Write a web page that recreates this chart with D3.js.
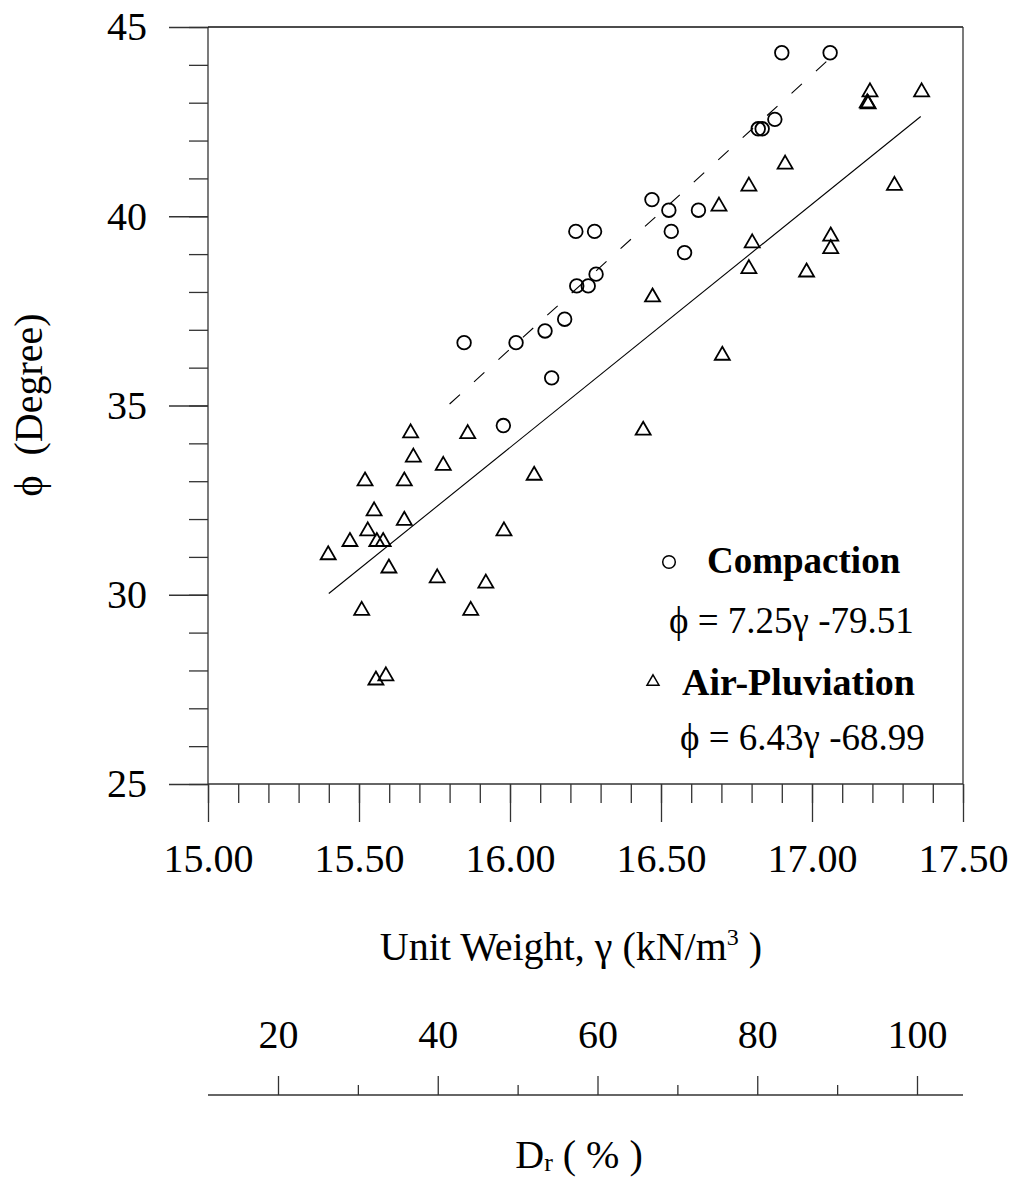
<!DOCTYPE html>
<html><head><meta charset="utf-8">
<script src="https://cdn.jsdelivr.net/npm/d3@7"></script>
<style>
body{margin:0;background:#fff}
text{font-family:"Liberation Serif","Times New Roman",Times,serif;fill:#000}
</style>
</head><body>
<svg id="chart" width="1019" height="1178"></svg>
<script>
// ---- data ----
const compactionGamma = [16.900,17.060,16.877,16.822,16.835,16.470,16.526,16.624,16.218,16.280,16.534,16.578,16.285,16.221,16.259,16.181,16.116,16.020,15.848,16.138,15.978];
const compactionPhi   = [44.32,44.32,42.56,42.31,42.31,40.44,40.16,40.16,39.60,39.60,39.60,39.04,38.47,38.16,38.16,37.28,36.97,36.66,36.66,35.73,34.47];

const pluviationGamma = [17.192,17.183,17.186,17.363,16.911,16.791,17.273,16.692,17.062,17.062,16.802,16.791,16.982,16.472,16.703,16.441,16.080,15.671,15.860,15.680,15.779,15.520,15.650,15.550,15.650,15.529,15.980,15.470,15.559,15.580,15.398,15.599,15.759,15.920,15.509,15.870,15.556,15.589];
const pluviationPhi   = [43.34,43.05,43.02,43.34,41.43,40.85,40.87,40.32,39.53,39.20,39.35,38.67,38.58,37.92,36.38,34.40,33.21,34.33,34.31,33.69,33.47,33.06,33.06,32.27,32.02,31.74,31.74,31.46,31.46,31.46,31.11,30.76,30.50,30.36,29.64,29.64,27.80,27.91];

const seriesNames   = ["Compaction", "Air-Pluviation"];
const fitSlope      = [7.25, 6.43];
const fitIntercept  = [-79.51, -68.99];
const fitGammaStart = [15.80, 15.40];
const fitGammaEnd   = [17.06, 17.36];

const xMajorTicks = [15.0, 15.5, 16.0, 16.5, 17.0, 17.5];
const yMajorTicks = [25, 30, 35, 40, 45];
const drMajorTicks = [20, 40, 60, 80, 100];
const drMinorTicks = [30, 50, 70, 90];

// ---- drawing ----
const svg = d3.select("#chart");
const x = d3.scaleLinear([15, 17.5], [208, 963]);
const y = d3.scaleLinear([25, 45], [784, 27]);
const dr = d3.scaleLinear([20, 100], [278, 917]);
const axisColor = "#333";
const FONT = '"Liberation Serif","Times New Roman",Times,serif';

function styleAxis(g) {
  g.attr("font-family", FONT).attr("font-size", 40);
  g.selectAll("line").attr("stroke", axisColor).attr("stroke-width", 1.3);
  g.selectAll("path.domain").remove();
  g.selectAll("text").attr("fill", "#000");
}

// left axis
svg.append("g").attr("transform", `translate(${x(15)},0)`)
  .call(d3.axisLeft(y).tickValues(d3.range(25, 46, 1)).tickSize(19).tickFormat("").tickSizeOuter(0))
  .call(styleAxis);
svg.append("g").attr("transform", `translate(${x(15)},0)`)
  .call(d3.axisLeft(y).tickValues(yMajorTicks).tickSize(39).tickPadding(22).tickFormat(d3.format("d")).tickSizeOuter(0))
  .call(styleAxis);

// bottom axis
svg.append("g").attr("transform", `translate(0,${y(25)})`)
  .call(d3.axisBottom(x).tickValues(d3.range(150, 176, 1).map(v => v / 10)).tickSize(19).tickFormat("").tickSizeOuter(0))
  .call(styleAxis);
svg.append("g").attr("transform", `translate(0,${y(25)})`)
  .call(d3.axisBottom(x).tickValues(xMajorTicks).tickSize(38).tickPadding(22).tickFormat(d3.format(".2f")).tickSizeOuter(0))
  .call(styleAxis);

// frame lines
const frame = svg.append("g").attr("stroke", axisColor).attr("stroke-width", 1.3);
frame.append("line").attr("x1", x(15)).attr("x2", x(15)).attr("y1", y(45)).attr("y2", y(25));
frame.append("line").attr("x1", x(15)).attr("x2", x(17.5)).attr("y1", y(25)).attr("y2", y(25));
frame.append("line").attr("x1", x(15)).attr("x2", x(17.5)).attr("y1", y(45)).attr("y2", y(45)).attr("stroke","#111");
frame.append("line").attr("x1", x(17.5)).attr("x2", x(17.5)).attr("y1", y(45)).attr("y2", y(25));

// Dr axis
const drY = 1095;
svg.append("g").attr("transform", `translate(0,${drY})`)
  .call(d3.axisTop(dr).tickValues(drMinorTicks).tickSize(10).tickFormat("").tickSizeOuter(0))
  .call(styleAxis);
svg.append("g").attr("transform", `translate(0,${drY})`)
  .call(d3.axisTop(dr).tickValues(drMajorTicks).tickSize(19).tickPadding(28).tickFormat(d3.format("d")).tickSizeOuter(0))
  .call(styleAxis);
svg.append("line").attr("x1", x.range()[0]).attr("x2", x.range()[1]).attr("y1", drY).attr("y2", drY)
  .attr("stroke", axisColor).attr("stroke-width", 1.3);

// fit lines
const fitStyles = [{dash: "14,19"}, {dash: null}];
seriesNames.forEach((name, i) => {
  const g0 = fitGammaStart[i], g1 = fitGammaEnd[i];
  const ln = svg.append("line")
    .attr("x1", x(g0)).attr("y1", y(fitSlope[i] * g0 + fitIntercept[i]))
    .attr("x2", x(g1)).attr("y2", y(fitSlope[i] * g1 + fitIntercept[i]))
    .attr("stroke", "#000").attr("stroke-width", 1.1);
  if (fitStyles[i].dash) ln.attr("stroke-dasharray", fitStyles[i].dash);
});

// markers
const triPath = s => { const h = s * Math.sqrt(3) / 2; return `M0,${-h/2}L${s/2},${h/2}L${-s/2},${h/2}Z`; };
const compaction = compactionGamma.map((g, i) => ({g, p: compactionPhi[i]}));
const pluviation = pluviationGamma.map((g, i) => ({g, p: pluviationPhi[i]}));

svg.append("g").selectAll("circle").data(compaction).join("circle")
  .attr("cx", d => x(d.g)).attr("cy", d => y(d.p)).attr("r", 6.8)
  .attr("fill", "none").attr("stroke", "#000").attr("stroke-width", 1.8);

svg.append("g").selectAll("path").data(pluviation).join("path")
  .attr("transform", d => `translate(${x(d.g)},${y(d.p)})`)
  .attr("d", triPath(15))
  .attr("fill", "none").attr("stroke", "#000").attr("stroke-width", 1.8).attr("stroke-linejoin", "miter");

// legend
const fmtEq = i => `ϕ = ${fitSlope[i].toFixed(2)}γ ${fitIntercept[i].toFixed(2)}`;
svg.append("circle").attr("cx", 669).attr("cy", 562).attr("r", 6.3)
  .attr("fill", "none").attr("stroke", "#000").attr("stroke-width", 1.5);
svg.append("text").attr("x", 707).attr("y", 573).attr("font-size", 37).attr("font-weight", "bold").text(seriesNames[0]);
svg.append("text").attr("x", 669).attr("y", 633).attr("font-size", 37).text(fmtEq(0));
svg.append("path").attr("transform", "translate(653,680)").attr("d", triPath(12))
  .attr("fill", "none").attr("stroke", "#000").attr("stroke-width", 1.5);
svg.append("text").attr("x", 682).attr("y", 695).attr("font-size", 38).attr("font-weight", "bold").text(seriesNames[1]);
svg.append("text").attr("x", 680).attr("y", 750).attr("font-size", 37).text(fmtEq(1));

// axis titles
svg.append("text").attr("transform", "translate(42,405) rotate(-90)")
  .attr("text-anchor", "middle").attr("font-size", 40).text("ϕ\u00a0\u00a0(Degree)");

const xt = svg.append("text").attr("x", 571).attr("y", 960).attr("text-anchor", "middle").attr("font-size", 40);
xt.append("tspan").text("Unit Weight, γ (kN/m");
xt.append("tspan").attr("font-size", 24).attr("dy", -15).text("3");
xt.append("tspan").attr("dy", 15).text(" )");

const dt = svg.append("text").attr("x", 579).attr("y", 1168).attr("text-anchor", "middle").attr("font-size", 40);
dt.append("tspan").text("D");
dt.append("tspan").attr("font-size", 26).attr("dy", 3).text("r");
dt.append("tspan").attr("dy", -3).text(" ( % )");
</script>
</body></html>
